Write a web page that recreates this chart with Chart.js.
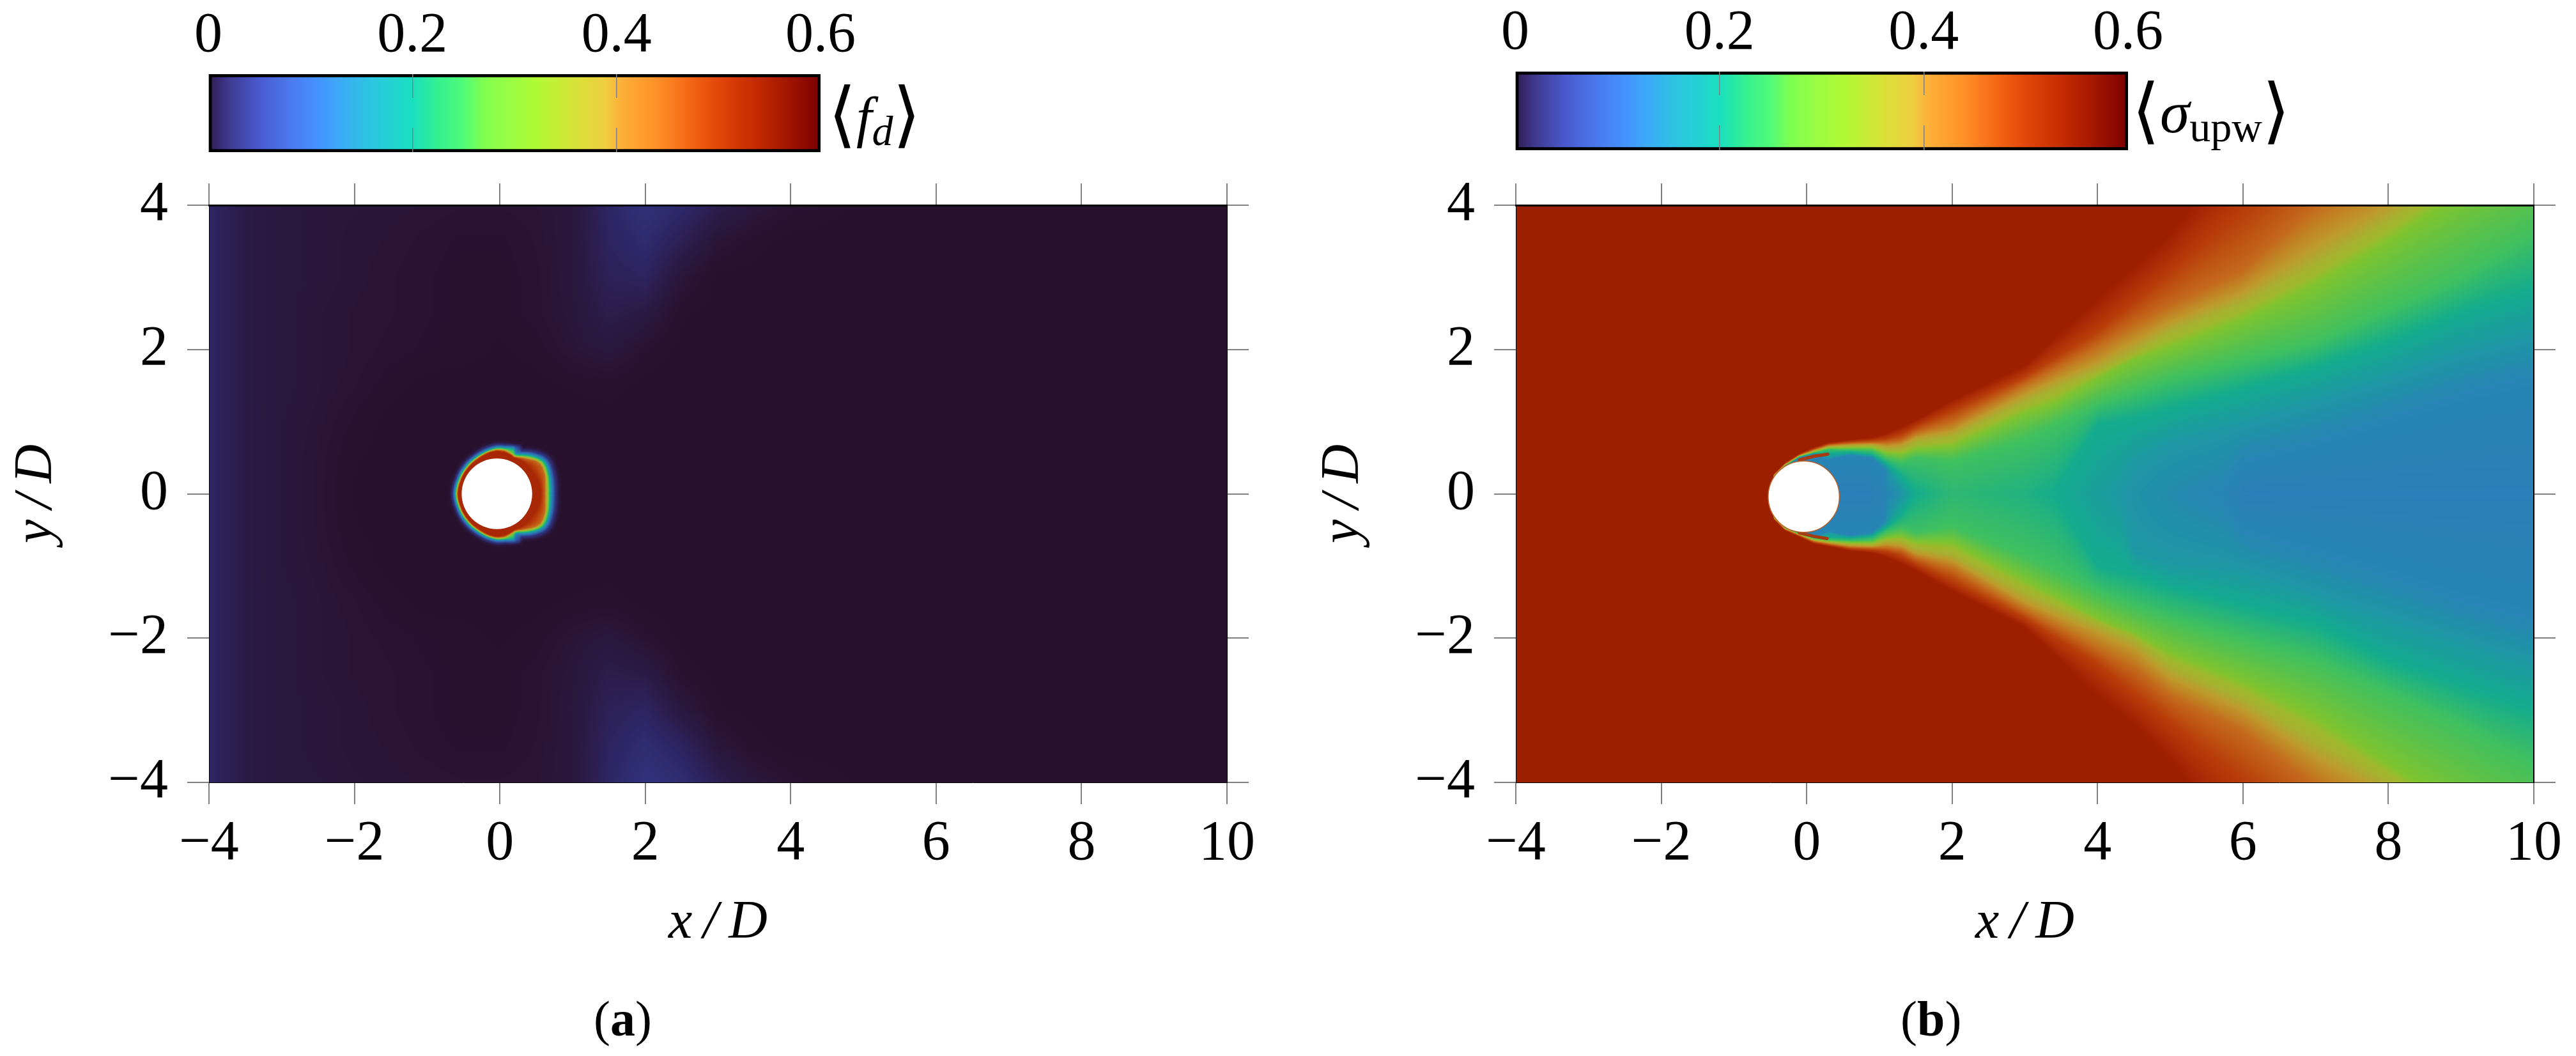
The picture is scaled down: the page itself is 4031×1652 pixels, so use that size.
<!DOCTYPE html>
<html><head><meta charset="utf-8">
<script src="https://cdn.jsdelivr.net/npm/chart.js@4"></script>
<style>
html,body{margin:0;padding:0;background:#fff;width:4031px;height:1652px;overflow:hidden}
canvas{position:absolute;display:block}
.t{position:absolute;font-family:'Liberation Serif',serif;color:#000;white-space:nowrap;line-height:1}
.t sub{font-size:66px;vertical-align:baseline;position:relative;top:14px}
.b{font-size:112px;font-family:'DejaVu Sans';font-weight:200;position:relative;top:4px}
</style></head><body>
<canvas id="barA"></canvas><canvas id="barB"></canvas>
<canvas id="fieldA"></canvas><canvas id="fieldB"></canvas>
<div class="t" style="left:1296px;top:118px;font-size:88px"><span class="b">⟨</span><i>f</i><sub><i>d</i></sub><span class="b">⟩</span></div>
<div class="t" style="left:3336px;top:112px;font-size:94px"><span class="b">⟨</span><i>σ</i><sub>upw</sub><span class="b">⟩</span></div>
<div class="t" style="left:929px;top:1555px;font-size:78px">(<b>a</b>)</div>
<div class="t" style="left:2974px;top:1555px;font-size:78px">(<b>b</b>)</div>
<script>
const xTicks=[-4,-2,0,2,4,6,8,10];
const yTicks=[-4,-2,0,2,4];
const barTicks=[0,0.2,0.4,0.6];
const barTickLabels=['0','0.2','0.4','0.6'];
const barStopValues=[0,.02,.05,.085,.105,.125,.16,.2,.225,.25,.27,.32,.36,.39,.405,.44,.47,.5,.54,.57,.6];
const barStopColors=['#2e1a4e','#3f3a90','#4a5ad0','#4a7ef0','#4590ff','#3ea6fa','#2cc6e0','#1adfc0','#35f090','#50fb78','#80ff50','#b0fa35','#d8e238','#f0cc40','#fcb038','#ff9028','#f56815','#e24608','#c02800','#a01400','#7a0000'];
const fieldStopValues=[0,1,2,3,4,5,7,10,14,17,20,25,30,33,36,40,45,50,54,56,60];
const fieldStopColors=['#27102c','#2a1639','#2b1c4a','#2d2460','#2f2d72','#30347e','#2f4a95','#2d64a8','#2a80b8','#1e98a4','#14ac8e','#40c060','#80c430','#a0b82e','#a8b030','#bf9a2c','#c46a1c','#b83e0a','#a82805','#9c2000','#8a1000'];
const coarseX=[-4,-3.5,-3,-2.5,-2,-1.5,-1,-.5,0,.5,1,1.5,2,2.5,3,3.5,4,4.5,5,5.5,6,6.5,7,7.5,8,8.5,9,9.5,10];
const coarseY=[4,3.5,3,2.5,2,1.5,1,.5,0,-.5,-1,-1.5,-2,-2.5,-3,-3.5,-4];
const fdCoarse=[
[3.2,1.8,1.3,1.1,1.0,.9,.8,.7,.7,.8,1.2,3.2,4.6,3.6,2.2,1.2,.6,.3,.1,0,0,0,0,0,0,0,0,0,0],
[3.2,1.8,1.3,1.1,.9,.8,.6,.4,.4,.7,1.2,3.0,3.8,2.4,.9,.3,0,0,0,0,0,0,0,0,0,0,0,0,0],
[3.2,1.8,1.3,1.1,.9,.7,.5,.3,.3,.6,1.2,2.6,3.0,1.0,0,0,0,0,0,0,0,0,0,0,0,0,0,0,0],
[3.2,1.8,1.3,1.0,.8,.7,.5,.3,.3,.6,1.1,2.1,1.6,.2,0,0,0,0,0,0,0,0,0,0,0,0,0,0,0],
[3.2,1.8,1.3,1.0,.8,.6,.4,.3,.1,.3,.9,1.3,.5,0,0,0,0,0,0,0,0,0,0,0,0,0,0,0,0],
[3.2,1.8,1.3,1.0,.7,.3,0,0,0,0,.2,.3,0,0,0,0,0,0,0,0,0,0,0,0,0,0,0,0,0],
[3.2,1.8,1.2,.9,.4,0,0,0,0,0,0,0,0,0,0,0,0,0,0,0,0,0,0,0,0,0,0,0,0],
[3.2,1.8,1.2,.8,.2,0,0,0,0,0,0,0,0,0,0,0,0,0,0,0,0,0,0,0,0,0,0,0,0],
[3.2,1.8,1.2,.8,.1,0,0,0,0,0,0,0,0,0,0,0,0,0,0,0,0,0,0,0,0,0,0,0,0],
[3.2,1.8,1.2,.8,.2,0,0,0,0,0,0,0,0,0,0,0,0,0,0,0,0,0,0,0,0,0,0,0,0],
[3.2,1.8,1.2,.9,.4,0,0,0,0,0,0,0,0,0,0,0,0,0,0,0,0,0,0,0,0,0,0,0,0],
[3.2,1.8,1.3,1.0,.7,.3,0,0,0,0,.2,.3,0,0,0,0,0,0,0,0,0,0,0,0,0,0,0,0,0],
[3.2,1.8,1.3,1.0,.8,.6,.4,.3,.1,.3,.9,1.3,.6,0,0,0,0,0,0,0,0,0,0,0,0,0,0,0,0],
[3.2,1.8,1.3,1.0,.8,.7,.5,.3,.3,.6,1.1,2.1,1.8,.4,0,0,0,0,0,0,0,0,0,0,0,0,0,0,0],
[3.2,1.8,1.3,1.1,.9,.7,.5,.3,.3,.6,1.2,2.6,3.1,1.4,.2,0,0,0,0,0,0,0,0,0,0,0,0,0,0],
[3.2,1.8,1.3,1.1,.9,.8,.6,.4,.4,.7,1.2,3.0,4.0,3.0,1.1,.3,0,0,0,0,0,0,0,0,0,0,0,0,0],
[3.2,1.8,1.3,1.2,1.0,.9,.8,.7,.7,.8,1.2,3.2,4.8,4.0,2.4,1.2,.6,.3,.1,0,0,0,0,0,0,0,0,0,0]];
const ringLevels=[54,45,30,20,14,5,1];
const ringAngles=[0,10,20,30,35,40,50,60,65,70,80,90,100,110,120,140,160,180,200,220,240,250,260,270,280,290,295,300,310,320,325,330,340,350];
const fdRingRadius=[
[.6,.66,.70,.73,.755,.80,.86],
[.6,.67,.71,.74,.765,.81,.87],
[.59,.70,.735,.76,.785,.83,.89],
[.57,.72,.755,.78,.805,.85,.91],
[.57,.72,.755,.78,.805,.85,.91],
[.57,.70,.735,.76,.785,.83,.89],
[.57,.63,.665,.69,.715,.76,.82],
[.56,.58,.60,.62,.645,.68,.74],
[.55,.565,.585,.60,.62,.72,.76],
[.565,.58,.60,.66,.68,.71,.74],
[.58,.605,.625,.64,.655,.685,.72],
[.59,.605,.625,.635,.65,.68,.72],
[.575,.59,.605,.615,.63,.66,.70],
[.555,.57,.585,.595,.61,.64,.68],
[.54,.555,.57,.58,.595,.625,.66],
[.53,.54,.555,.565,.58,.61,.645],
[.525,.535,.55,.56,.575,.60,.635],
[.53,.545,.56,.57,.585,.61,.645],
[.525,.535,.55,.56,.575,.60,.635],
[.53,.54,.555,.565,.58,.61,.645],
[.54,.555,.57,.58,.595,.625,.66],
[.555,.57,.585,.595,.61,.64,.68],
[.575,.59,.605,.615,.63,.66,.70],
[.59,.605,.625,.635,.65,.68,.72],
[.58,.605,.625,.64,.655,.685,.72],
[.565,.58,.60,.66,.68,.72,.75],
[.55,.57,.585,.60,.62,.73,.76],
[.56,.58,.60,.62,.645,.68,.74],
[.57,.63,.665,.69,.715,.76,.82],
[.57,.70,.735,.76,.785,.83,.89],
[.57,.72,.755,.78,.805,.85,.91],
[.57,.72,.755,.78,.805,.85,.91],
[.59,.70,.735,.76,.785,.83,.89],
[.6,.67,.71,.74,.765,.81,.87]];
const wakeStations=[-.53,-.45,-.3,-.1,.1,.3,.6,.9,1.1,1.3,1.5,2,3,3.4,4,4.3,4.5,5,5.7,6,7,8,9,10];
const wakeCentre=[14,14,14,14,14,14,14,14,14.5,16.5,20,23,21.5,20,18,17,16.5,15.5,14.5,14,14,14,14,14];
const wakeLevels=[14.5,17,20,25,30,36,40,45,50,56];
const wakeTop=[
[0,0,0,0,0,0,0,0,0,0],
[.23,.235,.24,.245,.25,.255,.26,.265,.27,.28],
[.375,.38,.385,.39,.395,.40,.405,.41,.42,.43],
[.50,.505,.51,.515,.52,.525,.53,.535,.545,.56],
[.55,.56,.565,.57,.58,.59,.60,.61,.625,.645],
[.47,.5,.56,.62,.635,.65,.66,.675,.69,.71],
[.54,.55,.575,.61,.64,.66,.68,.70,.72,.75],
[.49,.52,.54,.6,.64,.67,.69,.71,.74,.78],
[.30,.37,.42,.49,.57,.62,.66,.71,.76,.84],
[0,.05,.26,.43,.55,.62,.68,.74,.82,.93],
[0,0,0,.5,.62,.72,.78,.85,.93,1.02],
[0,0,0,.45,.66,.8,.87,1.0,1.15,1.3],
[0,0,0,.75,1.12,1.28,1.38,1.52,1.62,1.78],
[0,0,0,.95,1.26,1.46,1.56,1.73,1.87,2.15],
[0,0,.96,1.25,1.6,1.72,1.82,2.05,2.25,2.7],
[0,0,1.01,1.35,1.76,1.87,2.0,2.23,2.49,2.97],
[0,.4,1.05,1.42,1.86,1.97,2.1,2.35,2.65,3.15],
[0,.7,1.18,1.6,2.03,2.25,2.38,2.62,3.05,3.6],
[0,.88,1.37,1.77,2.30,2.53,2.67,2.96,3.65,4.5],
[.43,.96,1.45,1.85,2.42,2.65,2.8,3.1,3.9,4.9],
[.7,1.29,1.75,2.1,2.9,3.2,3.45,4.0,4.7,6],
[1.02,1.6,2.09,2.55,3.5,3.8,4.0,4.6,5.4,7],
[1.35,1.95,2.5,3.0,4.2,4.5,4.7,5.3,6.2,8],
[1.6,2.2,2.84,3.6,4.9,5.2,5.4,6,7,9]];
const wakeBottom=[
[0,0,0,0,0,0,0,0,0,0],
[.31,.315,.32,.325,.33,.335,.34,.345,.35,.36],
[.455,.46,.465,.47,.475,.48,.485,.49,.50,.51],
[.54,.545,.55,.555,.56,.565,.57,.575,.585,.60],
[.60,.61,.615,.62,.63,.64,.65,.66,.675,.695],
[.52,.54,.60,.64,.655,.67,.68,.695,.71,.73],
[.58,.59,.615,.65,.68,.70,.72,.74,.76,.79],
[.53,.56,.58,.64,.68,.71,.73,.75,.78,.82],
[.34,.41,.46,.53,.61,.66,.70,.75,.80,.88],
[0,.05,.3,.47,.59,.66,.72,.78,.86,.97],
[0,0,0,.54,.66,.76,.82,.89,.97,1.06],
[0,0,0,.45,.68,.85,.92,1.05,1.2,1.35],
[0,0,0,.85,1.2,1.38,1.5,1.62,1.72,1.85],
[0,0,0,1.05,1.41,1.56,1.67,1.83,1.97,2.23],
[0,0,1.0,1.35,1.72,1.82,1.92,2.15,2.35,2.8],
[0,0,1.07,1.47,1.85,1.94,2.06,2.31,2.59,3.04],
[0,.8,1.12,1.55,1.93,2.02,2.15,2.42,2.75,3.2],
[0,.95,1.3,1.72,2.2,2.4,2.55,2.8,3.15,3.7],
[0,1.02,1.47,1.92,2.48,2.72,2.87,3.15,3.71,4.54],
[.5,1.05,1.55,2.0,2.6,2.85,3.0,3.3,3.95,4.9],
[.78,1.4,1.8,2.3,3.1,3.45,3.65,4.05,4.7,6],
[1.1,1.72,2.3,2.75,3.75,4.0,4.2,4.7,5.4,7],
[1.45,2.05,2.65,3.2,4.4,4.7,4.9,5.4,6.2,8],
[1.7,2.35,3.0,3.75,5.1,5.4,5.6,6.1,7,9]];
const streakTop=[{x:-.1,y:.47},{x:.1,y:.52},{x:.29,y:.55}];
const streakBottom=[{x:-.1,y:-.54},{x:.1,y:-.59},{x:.28,y:-.62}];
const cylinderA=[{x:-.04,y:0}];
const cylinderB=[{x:-.04,y:-.04}];
const cylinderRadiusA=.485,cylinderRadiusB=.49;

const FONT='Liberation Serif',GREY='#808080';
Chart.defaults.font.family=FONT;
function hex(c){return [1,3,5].map(i=>parseInt(c.substr(i,2),16));}
const LUT=(()=>{const n=1201,a=new Uint8Array(n*3),st=fieldStopColors.map(hex);
 for(let k=0;k<n;k++){const v=k/20;let i=0;while(i<fieldStopValues.length-2&&v>fieldStopValues[i+1])i++;
  const t=Math.min(1,(v-fieldStopValues[i])/(fieldStopValues[i+1]-fieldStopValues[i]));
  for(let c=0;c<3;c++)a[k*3+c]=st[i][c]+(st[i+1][c]-st[i][c])*t;}return a;})();
function bil(g,xs,ys,x,y){
 const dx=xs[1]-xs[0],dy=ys[1]-ys[0];
 let i=(x-xs[0])/dx,j=(y-ys[0])/dy;
 i=Math.max(0,Math.min(xs.length-1.0001,i));j=Math.max(0,Math.min(ys.length-1.0001,j));
 const a=Math.floor(i),b=Math.floor(j),u=i-a,w=j-b;
 return (g[b][a]*(1-u)+g[b][a+1]*u)*(1-w)+(g[b+1][a]*(1-u)+g[b+1][a+1]*u)*w;
}
function valueA(x,y){
 const base=bil(fdCoarse,coarseX,coarseY,x,y);
 const dx=x-cylinderA[0].x,dy=y-cylinderA[0].y,r=Math.hypot(dx,dy);
 if(r>1.1)return base;
 let th=Math.atan2(dy,dx)*180/Math.PI;if(th<0)th+=360;
 const n=ringAngles.length;let a=n-1;
 for(let i=0;i<n;i++)if(ringAngles[i]<=th)a=i;
 const b=(a+1)%n,span=((ringAngles[b]-ringAngles[a])+360)%360,u=(th-ringAngles[a])/span;
 const R=i=>fdRingRadius[a][i]*(1-u)+fdRingRadius[b][i]*u;
 let pr=R(0),pv=ringLevels[0];
 if(r<=pr)return pv;
 for(let i=1;i<ringLevels.length;i++){const q=R(i);
  if(r<=q)return pv+(ringLevels[i]-pv)*(r-pr)/(q-pr);pr=q;pv=ringLevels[i];}
 const q=pr+.04;
 return r<q?Math.max(base,pv*(q-r)/.04):base;
}
function valueB(x,y){
 const S=wakeStations;
 if(x<S[0])return 56;
 let a=0;while(a<S.length-2&&x>S[a+1])a++;
 const u=Math.min(1,(x-S[a])/(S[a+1]-S[a]));
 const T=y>=0?wakeTop:wakeBottom,Y=Math.abs(y);
 const c=wakeCentre[a]*(1-u)+wakeCentre[a+1]*u;
 let py=0,pv=c;
 for(let i=0;i<wakeLevels.length;i++){
  const L=wakeLevels[i];if(L<=c)continue;
  const q=T[a][i]*(1-u)+T[a+1][i]*u;if(q<=py)continue;
  if(Y<=q)return pv+(L-pv)*(Y-py)/(q-py);
  py=q;pv=L;}
 return 56;
}
const fieldPlugin={id:'field',beforeDatasetsDraw(chart,args,opts){
 const A=chart.chartArea,sx=chart.scales.x,sy=chart.scales.y;
 const W=Math.round(A.right-A.left),H=Math.round(A.bottom-A.top);
 const off=document.createElement('canvas');off.width=W;off.height=H;
 const o=off.getContext('2d'),im=o.createImageData(W,H),d=im.data;
 const xs=new Float64Array(W),ys=new Float64Array(H);
 for(let i=0;i<W;i++)xs[i]=sx.getValueForPixel(A.left+i+.5);
 for(let j=0;j<H;j++)ys[j]=sy.getValueForPixel(A.top+j+.5);
 let p=0;
 for(let j=0;j<H;j++)for(let i=0;i<W;i++){
  const k=Math.max(0,Math.min(1200,Math.round(opts.value(xs[i],ys[j])*20)))*3;
  d[p++]=LUT[k];d[p++]=LUT[k+1];d[p++]=LUT[k+2];d[p++]=255;}
 o.putImageData(im,0,0);
 chart.ctx.drawImage(off,A.left,A.top);
}};
const fix=(n)=>s=>{ if(s.isHorizontal())s.height=n; else s.width=n; s.paddingLeft=s.paddingRight=s.paddingTop=s.paddingBottom=0; };
const minus=v=>String(v).replace('-','\u2212');
const tickGrid={drawOnChartArea:false,tickLength:34,tickColor:GREY,tickWidth:2,lineWidth:2};
function makeField(id,plotLeft,cells,value,cyl,cylR,ringColor,rightBorder,label,extra){
 const L=319,R=60,T=36,B=271,PW=1593,PH=903,TOP=321;
 const cv=document.getElementById(id);
 cv.width=L+PW+R;cv.height=T+PH+B;
 cv.style.left=(plotLeft-L)+'px';cv.style.top=(TOP-T)+'px';
 const font={family:FONT,size:88},titleFont={family:FONT,size:84,style:'italic'};
 const setX=s=>{s.ticks=xTicks.map(v=>({value:v}));},setY=s=>{s.ticks=yTicks.map(v=>({value:v}));};
 new Chart(cv,{type:'scatter',plugins:[fieldPlugin],
  data:{datasets:[
   {label:'cylinder',data:cyl,backgroundColor:'#fff',borderColor:ringColor,pointBorderWidth:ringColor==='#fff'?0:1.5,
    pointRadius:c=>{const s=c.chart.scales.x;return s.getPixelForValue(cylR)-s.getPixelForValue(0);}},
   ...extra,
   {label,data:cells,pointRadius:0,pointHoverRadius:0}
  ]},
  options:{responsive:false,animation:false,devicePixelRatio:1,events:[],
   layout:{padding:0},
   plugins:{legend:{display:false},tooltip:{enabled:false},field:{value}},
   scales:{
    x:{type:'linear',position:'bottom',min:-4,max:10,afterBuildTicks:setX,afterFit:fix(B),grid:tickGrid,border:{color:'#000',width:1,z:1},
       ticks:{font,color:'#000',padding:10,autoSkip:false,maxRotation:0,callback:minus},
       title:{display:true,text:'x\u2009/\u2009D',font:titleFont,color:'#000',padding:0}},
    x2:{type:'linear',position:'top',min:-4,max:10,afterBuildTicks:setX,afterFit:fix(T),grid:tickGrid,border:{color:'#000',width:3,z:1},ticks:{display:false}},
    y:{type:'linear',position:'left',min:-4,max:4,afterBuildTicks:setY,afterFit:fix(L),grid:tickGrid,border:{color:'#000',width:1,z:1},
       ticks:{font,color:'#000',padding:30,autoSkip:false,maxRotation:0,callback:minus},
       title:{display:true,text:'y\u2009/\u2009D',font:titleFont,color:'#000',padding:0}},
    y2:{type:'linear',position:'right',min:-4,max:4,afterBuildTicks:setY,afterFit:fix(R),grid:tickGrid,border:{color:'#000',width:rightBorder,z:1},ticks:{display:false}}
   }}});
}
function makeBar(id,left,right,top,bottom){
 const cv=document.getElementById(id),P=100;
 cv.width=right-left+2*P;cv.height=bottom;cv.style.left=(left-P)+'px';cv.style.top='0px';
 new Chart(cv,{type:'bar',
  data:{labels:[''],datasets:[{data:[[barTicks[0],barTicks[barTicks.length-1]]],barPercentage:1,categoryPercentage:1,borderWidth:5,borderColor:'#000',borderSkipped:false,
   backgroundColor:c=>{const ch=c.chart;if(!ch.chartArea)return '#000';const s=ch.scales.x;
    const g=ch.ctx.createLinearGradient(s.getPixelForValue(0),0,s.getPixelForValue(.6),0);
    barStopValues.forEach((v,i)=>g.addColorStop(v/.6,barStopColors[i]));return g;}}]},
  options:{indexAxis:'y',responsive:false,animation:false,devicePixelRatio:1,events:[],
   layout:{padding:{left:P,right:P,top:0,bottom:0}},
   plugins:{legend:{display:false},tooltip:{enabled:false}},
   scales:{
    x:{type:'linear',position:'top',min:0,max:.6,afterBuildTicks:s=>{s.ticks=barTicks.map(v=>({value:v}));},afterFit:fix(top),
       border:{display:false,dash:[37,47,38,0]},
       grid:{z:1,drawTicks:false,lineWidth:1.5,color:c=>(c.tick&&(c.tick.value===.2||c.tick.value===.4))?GREY:'rgba(0,0,0,0)'},
       ticks:{font:{family:FONT,size:88},color:'#000',padding:6,autoSkip:false,maxRotation:0,callback:(v,i)=>barTickLabels[i]}},
    y:{display:false,type:'category'}
   }}});
}
const cellsA=[];coarseY.forEach((y,j)=>coarseX.forEach((x,i)=>cellsA.push({x,y,v:fdCoarse[j][i]})));
const cellsB=[];wakeStations.forEach((x,a)=>wakeLevels.forEach((v,l)=>{cellsB.push({x,y:wakeTop[a][l],v});cellsB.push({x,y:-wakeBottom[a][l],v});}));
const streak=d=>({label:'streak',data:d,showLine:true,pointRadius:0,borderColor:'#a83a10',borderWidth:5,borderCapStyle:'round'});
makeBar('barA',326,1284,116,238);
makeBar('barB',2371,3330,112,235);
makeField('fieldA',327,cellsA,valueA,cylinderA,cylinderRadiusA,'#fff',1,'⟨f_d⟩',[]);
makeField('fieldB',2372,cellsB,valueB,cylinderB,cylinderRadiusB,'#b8602a',2,'⟨σ_upw⟩',[streak(streakTop),streak(streakBottom)]);
</script></body></html>
